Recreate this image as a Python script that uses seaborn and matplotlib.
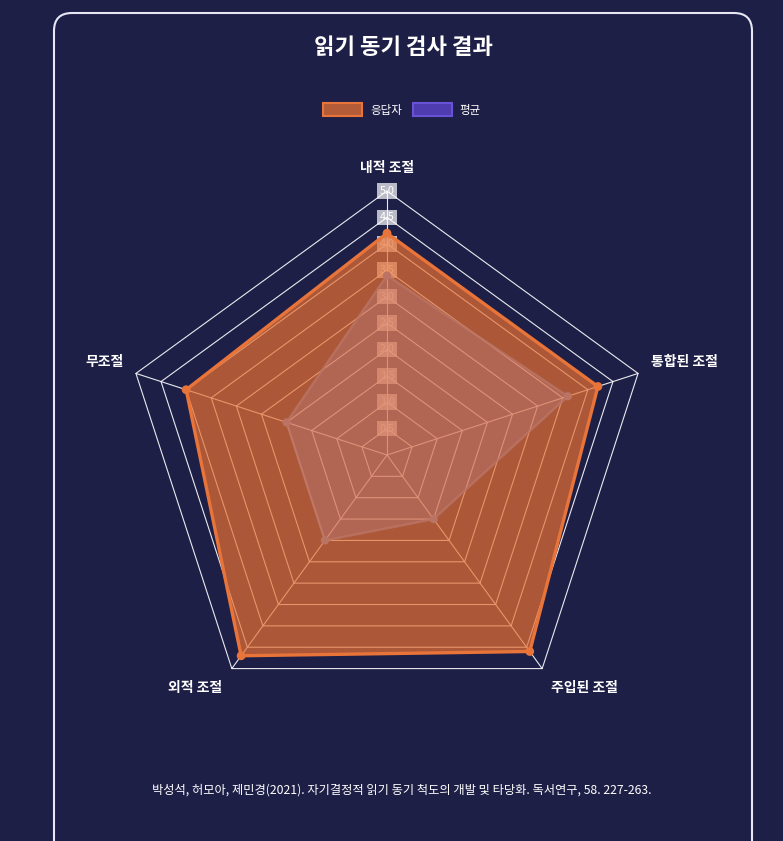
import numpy as np
import pandas as pd
import matplotlib
matplotlib.use("Agg")
import matplotlib.pyplot as plt
from matplotlib.patches import FancyBboxPatch, Patch
import seaborn as sns

# ---------------- data ----------------
categories = ["내적 조절", "통합된 조절", "주입된 조절", "외적 조절", "무조절"]
respondent = [4.2, 4.2, 4.6, 4.7, 4.0]
average = [3.4, 3.6, 1.5, 2.0, 2.0]
series_names = ["응답자", "평균"]
tick_values = [0.5, 1.0, 1.5, 2.0, 2.5, 3.0, 3.5, 4.0, 4.5, 5.0]
title_text = "읽기 동기 검사 결과"
source_text = "박성석, 허모아, 제민경(2021). 자기결정적 읽기 동기 척도의 개발 및 타당화. 독서연구, 58. 227-263."

# ---------------- style ----------------
BG = "#1e1f47"
sns.set_theme(style="dark", rc={"figure.facecolor": BG, "axes.facecolor": "none",
                                "savefig.facecolor": BG})
plt.rcParams["font.family"] = ["Noto Sans CJK KR", "DejaVu Sans"]

ORANGE = (232/255, 112/255, 50/255)
ORANGE_LINE = "#e8743a"
AVG_FILL = "#c28a9c"
AVG_LINE = "#bb7464"

W, H = 783, 841
fig = plt.figure(figsize=(W/100, H/100), dpi=100)

# panel
panel = FancyBboxPatch((54/W, -40/H), (752-54)/W, (841+40-13)/H,
                       boxstyle="round,pad=0,rounding_size=0.023",
                       transform=fig.transFigure, fc="none", ec="#e6e6f5", lw=1.5,
                       mutation_aspect=W/H)
fig.patches.append(panel)

# polar axes centred at (387, 455) px, radius 264 px
cx, cy, R = 387, 455, 264
ax = fig.add_axes([(cx-R)/W, 1-(cy+R)/H, 2*R/W, 2*R/H], projection="polar")
ax.set_theta_zero_location("N")
ax.set_theta_direction(-1)
ax.grid(False)
ax.spines["polar"].set_visible(False)
ax.set_xticks([])
ax.set_yticks([])

n = len(categories)
angles = np.arange(n) * 2*np.pi/n
ang_c = np.append(angles, angles[0])

# grid rings and spokes
for r in tick_values:
    ax.plot(ang_c, [r]*(n+1), color="white", lw=0.8, alpha=0.9, zorder=1, clip_on=False)
for a in angles:
    ax.plot([a, a], [0, tick_values[-1]], color="white", lw=0.8, alpha=0.9, zorder=1, clip_on=False)

# tick labels with backdrop
for r in tick_values:
    ax.text(0, r, f"{r:.1f}", ha="center", va="center", fontsize=7.8, color="white",
            zorder=2, bbox=dict(boxstyle="square,pad=0.25", fc=(1, 1, 1, 0.7), ec="none"))

# data frames
resp_df = pd.DataFrame({"theta": ang_c, "r": np.append(respondent, respondent[0])})
avg_df = pd.DataFrame({"theta": ang_c, "r": np.append(average, average[0])})

# respondent
ax.fill(resp_df["theta"], resp_df["r"], color=ORANGE, alpha=0.7, zorder=3, lw=0)
sns.lineplot(data=resp_df, x="theta", y="r", sort=False, ax=ax, color=ORANGE_LINE,
             lw=2.4, zorder=5, estimator=None)
sns.scatterplot(x=angles, y=respondent, ax=ax, color=ORANGE_LINE, s=40,
                edgecolor="none", zorder=7)

# average (overlay)
ax.fill(avg_df["theta"], avg_df["r"], color=AVG_FILL, alpha=0.28, zorder=4, lw=0)
sns.lineplot(data=avg_df, x="theta", y="r", sort=False, ax=ax, color=AVG_LINE,
             lw=1.8, alpha=0.8, zorder=6, estimator=None)
sns.scatterplot(x=angles, y=average, ax=ax, color=AVG_LINE, s=36,
                edgecolor="none", zorder=7)

ax.set_xlabel("")
ax.set_ylabel("")
ax.set_ylim(0, 5)
ax.set_xticks([])
ax.set_yticks([])
ax.grid(False)

# point labels
lab_kw = dict(fontsize=10, color="white", fontweight="bold")
ax.text(angles[0], 5.3, categories[0], ha="center", va="bottom", **lab_kw)
ax.text(angles[1], 5.25, categories[1], ha="left", va="bottom", **lab_kw)
ax.text(angles[2], 5.3, categories[2], ha="left", va="top", **lab_kw)
ax.text(angles[3], 5.3, categories[3], ha="right", va="top", **lab_kw)
ax.text(angles[4], 5.25, categories[4], ha="right", va="bottom", **lab_kw)

# title
fig.text(403/W, 1-47/H, title_text, ha="center", va="center", fontsize=16,
         fontweight="bold", color="white")

# legend
handles = [Patch(facecolor=(*ORANGE, 0.75), edgecolor=ORANGE_LINE, lw=1.5, label=series_names[0]),
           Patch(facecolor="#4f3cb0", edgecolor="#6a52d6", lw=1.5, label=series_names[1])]
fig.legend(handles=handles, loc="center", bbox_to_anchor=(402/W, 1-110/H), ncol=2,
           frameon=False, fontsize=8.3, labelcolor="white", handlelength=3.4,
           handleheight=1.3, handletextpad=0.7, columnspacing=0.9)

# source
fig.text(402/W, 1-790/H, source_text, ha="center", va="center", fontsize=8.8, color="white")

fig.savefig("out.png", dpi=100, facecolor=BG)
